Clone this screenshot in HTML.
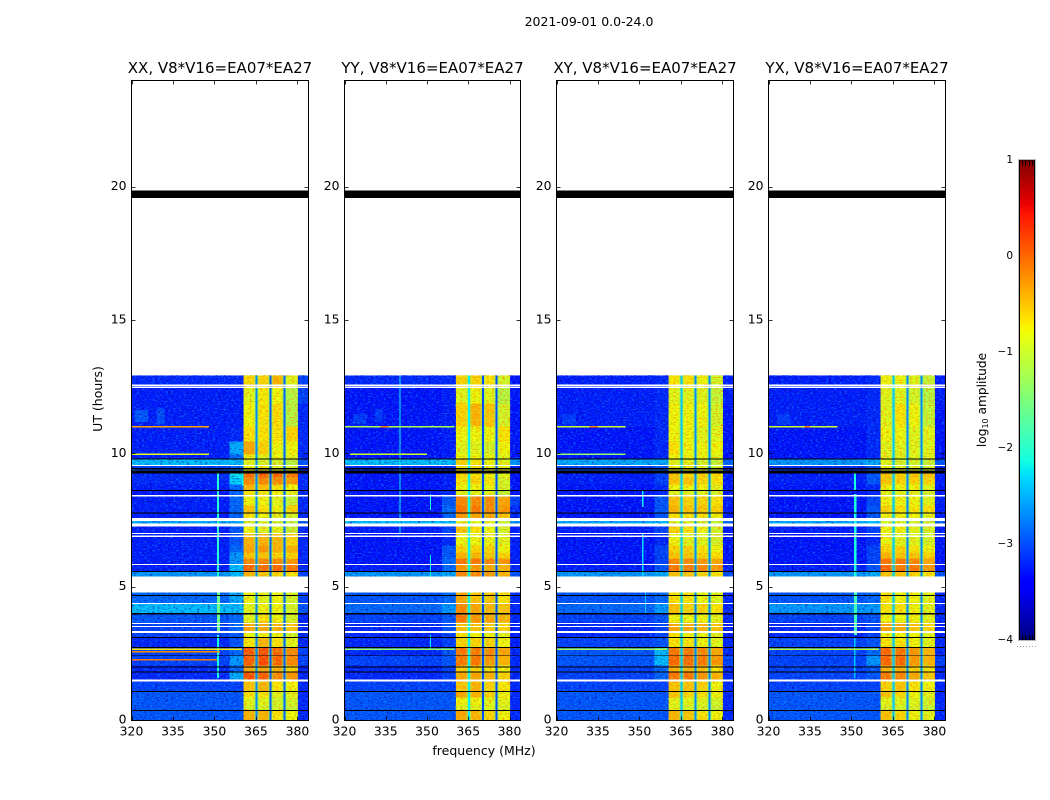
<!DOCTYPE html>
<html>
<head>
<meta charset="utf-8">
<title>Dynamic spectrum, 2021-09-01</title>
<style>
html,body{margin:0;padding:0;background:#fff;}
svg{display:block;font-family:"DejaVu Sans","Liberation Sans",sans-serif;fill:#000;}
</style>
</head>
<body>
<svg id="figure" xmlns="http://www.w3.org/2000/svg" width="1050" height="800" viewBox="0 0 1050 800">
<defs>
<filter id="speck-cool" x="0" y="0" width="100%" height="100%" color-interpolation-filters="sRGB">
<feTurbulence type="fractalNoise" baseFrequency="0.38 0.75" numOctaves="2" seed="3"/>
<feColorMatrix type="matrix" values="0 0 0 0 .1  0 0 0 0 .6  0 0 0 0 1  2 0 0 0 -1"/>
</filter>
<filter id="speck-dark" x="0" y="0" width="100%" height="100%" color-interpolation-filters="sRGB">
<feTurbulence type="fractalNoise" baseFrequency="0.38 0.75" numOctaves="2" seed="11"/>
<feColorMatrix type="matrix" values="0 0 0 0 0  0 0 0 0 0  0 0 0 0 .6  2 0 0 0 -1"/>
</filter>
<filter id="speck-warm" x="0" y="0" width="100%" height="100%" color-interpolation-filters="sRGB">
<feTurbulence type="fractalNoise" baseFrequency="0.38 0.75" numOctaves="2" seed="5"/>
<feColorMatrix type="matrix" values="0 0 0 0 1  0 0 0 0 .5  0 0 0 0 0  2.4 0 0 0 -1.1"/>
</filter>
<filter id="speck-green" x="0" y="0" width="100%" height="100%" color-interpolation-filters="sRGB">
<feTurbulence type="fractalNoise" baseFrequency="0.38 0.75" numOctaves="2" seed="17"/>
<feColorMatrix type="matrix" values="0 0 0 0 .6  0 0 0 0 1  0 0 0 0 .2  2 0 0 0 -1"/>
</filter>
</defs>
</svg>
<script>
// ---------- chart data ----------
var panelNames = ['XX', 'YY', 'XY', 'YX'];
var freqTicks = [320, 335, 350, 365, 380];
var hourTicks = [0, 5, 10, 15, 20];
var colorbarTicks = [1, 0, -1, -2, -3, -4];
// time row edges (UT hours), top to bottom
var rowEdges = [12.94,12.49,11.89,11.02,10.46,9.97,9.79,9.58,9.34,9.11,8.85,8.63,8.44,8.06,7.80,7.58,7.39,6.99,6.56,6.30,6.08,5.85,5.59,5.40,4.80,4.39,4.01,3.68,3.30,3.11,2.74,2.44,2.06,1.84,1.50,1.09,0.86,0.56,0.38,0];
// frequency edges (MHz) of the seven level columns
var columnRanges = [[320,355.5],[355.5,360.5],[360.5,365.2],[365.2,370.3],[370.3,375.3],[375.3,380.2],[380.2,384]];
// narrow notches between the sub-bands (MHz) and their level in each panel
var notchFreqs = [365.2, 370.3, 375.3];
var notchLevelsXX = [-2.7, -2.9, -2.9];
var notchLevelsYY = [-2.2, -3.0, -3.0];
var notchLevelsXY = [-2.4, -2.7, -2.7];
var notchLevelsYX = [-2.4, -2.7, -2.7];
var panelNotchLevels = [notchLevelsXX, notchLevelsYY, notchLevelsXY, notchLevelsYX];
// log10 amplitude per row: rows x columns
var levelsXX = [
[-3.2,-3.2,-.65,-.6,-.4,-.9,-3.05],[-3.25,-3.25,-.9,-.75,-.8,-1.2,-3.05],[-3.25,-3.25,-.8,-.7,-.65,-1.2,-3.2],[-3.25,-3.2,-.7,-.7,-.7,-.6,-3.2],
[-3.25,-2.5,-.3,-.6,-.8,-.8,-3.2],[-3.25,-2.85,-.8,-.9,-.8,-.9,-3.2],[-2.4,-2.4,-.9,-1,-1,-1.2,-2.95],[-3.05,-2.85,-.8,-.8,-.9,-1,-3.2],
[-3.2,-2.2,.1,.15,.1,0,-3.2],[-3.2,-2.3,-.1,-.1,-.1,-.2,-3.2],[-3.25,-2.85,-.4,-.5,-.7,-.8,-3.2],[-3.3,-2.85,-.7,-.7,-.8,-.9,-3.2],
[-3.25,-2.85,-.8,-.8,-.9,-1.1,-3.2],[-3.25,-2.85,-.5,-.7,-.8,-.6,-3.2],[-3.25,-2.85,-.7,-.8,-.9,-1,-3.2],[-2.5,-2.5,-1,-1,-1.1,-1.2,-2.95],
[-3.25,-2.95,-.8,-.9,-.9,-1.1,-3.2],[-3.25,-2.95,-.4,-.4,-.4,-.6,-3.2],[-3.25,-2.85,-.3,-.2,-.4,-.4,-3.2],[-3.25,-2.6,-.5,-.5,-.6,-.6,-3.2],
[-3.25,-2.6,-.1,-.1,-.1,-.2,-3.2],[-3.25,-2.4,.1,.1,.1,0,-3.2],[-2.6,-2.4,-.4,-.5,-.6,-.7,-3.05],null,
[-2.85,-2.5,-.8,-.9,-.8,-1,-3.05],[-2.4,-2.4,-.9,-.8,-.8,-1,-2.95],[-2.95,-2.85,-.9,-.7,-.8,-1,-3.2],[-3.05,-2.85,-.3,-.3,-.4,-.5,-3.2],
[-3.05,-2.95,-.8,-.8,-.8,-1,-3.2],[-3.2,-2.95,-.7,-.4,-.7,-.9,-3.2],[-3.05,-2.85,.2,.25,.1,-.1,-3.05],[-3.05,-2.6,.15,.25,.1,-.1,-3.05],
[-3.2,-2.85,-.3,-.3,-.4,-.6,-3.2],[-3.2,-2.5,.25,.15,-.1,-.2,-3.2],[-3.05,-3.05,-.5,-.4,-.7,-.8,-3.2],[-2.95,-2.95,-.7,-.7,-.9,-.9,-3.2],
[-2.95,-2.95,-.9,-.9,-1,-1,-3.2],[-2.95,-2.95,-1,-1,-1,-1.1,-3.2],[-2.95,-2.95,-.4,-.4,-.7,-.8,-3.2]
];
var levelsYY = [
[-3.2,-3.2,-.6,-.6,-.7,-1,-3.3],[-3.3,-3.25,-.9,-.8,-.9,-1.2,-3.3],[-3.3,-3.25,-.6,-.4,-.5,-1,-3.3],[-3.3,-3.25,-.8,-.8,-.8,-.7,-3.3],
[-3.3,-3.25,-.9,-.9,-1,-.8,-3.3],[-3.3,-3.25,-.8,-.8,-.8,-.9,-3.3],[-2.4,-2.4,-.6,-.7,-.8,-.9,-2.6],[-3.2,-3.2,-.7,-.7,-.8,-.9,-3.25],
[-3.3,-3.25,-.6,-.7,-.8,-.9,-3.3],[-3.3,-3.25,-.7,-.6,-.7,-1,-3.3],[-3.3,-3.25,-.8,-.8,-.8,-1,-3.3],[-3.3,-3.2,-.9,-.9,-.9,-1.1,-3.3],
[-3.3,-2.95,-.1,-.1,-.1,-.3,-3.05],[-3.3,-2.85,0,0,-.1,-.2,-3.2],[-3.3,-2.85,-.2,-.3,-.3,-.5,-3.2],[-2.4,-2.4,-.9,-.9,-.9,-1.1,-2.6],
[-3.25,-3.05,-.5,-.7,-.8,-1,-3.25],[-3.3,-3.2,-.8,-.8,-.8,-.9,-3.25],[-3.3,-2.95,-.6,-.6,-.6,-.8,-3.25],[-3.3,-2.95,-.4,-.4,-.5,-.6,-3.25],
[-3.3,-2.85,0,0,-.1,-.2,-3.25],[-3.25,-2.85,-.2,-.2,-.3,-.4,-3.2],[-2.6,-2.5,-.1,-.1,-.2,-.4,-2.95],null,
[-2.95,-2.85,-.3,-.5,-.5,-.7,-3.2],[-2.85,-2.6,-.1,-.3,-.4,-.5,-3.2],[-3.05,-2.95,0,-.2,-.3,-.4,-3.2],[-3.2,-2.95,-.5,-.5,-.5,-.6,-3.25],
[-3.2,-3.05,-.7,-.8,-.8,-.9,-3.25],[-3.2,-3.05,-.6,-.6,-.6,-.8,-3.25],[-3.2,-2.95,0,0,-.1,-.3,-3.2],[-3.05,-2.95,0,0,-.2,-.4,-3.2],
[-3.2,-3.05,-.6,-.6,-.7,-.8,-3.2],[-3.2,-3.05,-.3,-.3,-.4,-.6,-3.2],[-3.05,-3.05,-.5,-.4,-.6,-.7,-3.2],[-2.95,-2.95,-.3,-.4,-.6,-.8,-3.2],
[-2.95,-2.95,-.8,-.8,-.9,-.9,-3.2],[-2.95,-2.95,-.9,-.9,-.9,-1,-3.2],[-2.95,-2.95,-.3,-.4,-.6,-.8,-3.2]
];
var levelsXY = [
[-3.25,-3.2,-.7,-.7,-.8,-1,-3.25],[-3.25,-3.2,-.9,-.9,-.9,-1.1,-3.25],[-3.25,-3.2,-.8,-.8,-.8,-1,-3.3],[-3.3,-3.2,-.8,-.8,-.9,-.9,-3.3],
[-3.3,-3.2,-.7,-.8,-.8,-.8,-3.3],[-3.3,-3.2,-.8,-.8,-.8,-.9,-3.3],[-2.5,-2.5,-.9,-.9,-1,-1.1,-2.85],[-3.05,-2.95,-.8,-.8,-.9,-1,-3.2],
[-3.25,-3.05,-.5,-.6,-.6,-.7,-3.25],[-3.25,-3.05,-.5,-.5,-.6,-.7,-3.25],[-3.3,-3.2,-.8,-.8,-.8,-.9,-3.3],[-3.3,-3.2,-.9,-.9,-.9,-1,-3.3],
[-3.3,-2.95,-.5,-.6,-.6,-.7,-3.25],[-3.3,-2.95,-.4,-.5,-.5,-.6,-3.25],[-3.3,-2.95,-.7,-.7,-.7,-.8,-3.25],[-2.5,-2.4,-1,-1,-1,-1.1,-2.85],
[-3.25,-3.05,-.6,-.7,-.8,-1,-3.25],[-3.3,-3.2,-.8,-.9,-.9,-1,-3.3],[-3.3,-3.05,-.6,-.6,-.7,-.8,-3.3],[-3.3,-3.05,-.5,-.5,-.6,-.7,-3.3],
[-3.3,-3.05,-.1,-.1,-.2,-.3,-3.3],[-3.25,-2.95,0,0,-.1,-.2,-3.25],[-2.6,-2.5,-.5,-.5,-.6,-.7,-2.95],null,
[-2.95,-2.85,-.7,-.7,-.8,-.9,-3.2],[-2.85,-2.6,-.5,-.6,-.6,-.7,-3.2],[-3.05,-2.95,-.8,-.8,-.8,-.9,-3.2],[-3.2,-3.05,-.3,-.3,-.4,-.5,-3.25],
[-3.2,-3.05,-.7,-.8,-.8,-.9,-3.25],[-3.05,-2.95,-.7,-.7,-.8,-.9,-3.2],[-2.95,-2.4,0,0,-.1,-.3,-3.2],[-2.95,-2.4,.1,.1,0,-.2,-3.05],
[-3.05,-2.85,-.4,-.4,-.5,-.7,-3.2],[-3.05,-2.85,0,0,-.2,-.4,-3.2],[-3.05,-3.05,-.5,-.5,-.6,-.8,-3.2],[-2.95,-2.95,-.5,-.6,-.7,-.8,-3.2],
[-2.95,-2.95,-.9,-.9,-.9,-1,-3.2],[-2.95,-2.95,-.9,-1,-1,-1.1,-3.2],[-2.95,-2.95,-.4,-.5,-.7,-.8,-3.2]
];
var levelsYX = [
[-3.25,-3.2,-.8,-.8,-.9,-1.1,-3.25],[-3.25,-3.2,-.9,-.9,-1,-1.2,-3.25],[-3.25,-3.2,-.9,-.7,-.8,-1.1,-3.3],[-3.3,-3.2,-.8,-.8,-.9,-.9,-3.3],
[-3.3,-3.2,-.9,-.9,-.9,-.9,-3.3],[-3.3,-3.2,-.9,-.9,-.9,-.9,-3.3],[-2.6,-2.5,-.9,-1,-1,-1.1,-2.95],[-3.2,-2.95,-.8,-.9,-.9,-1,-3.25],
[-3.25,-2.95,-.5,-.6,-.5,-.5,-3.25],[-3.25,-2.95,-.5,-.6,-.6,-.6,-3.25],[-3.3,-3.2,-.8,-.8,-.8,-.9,-3.3],[-3.3,-3.2,-.9,-.9,-.9,-1,-3.3],
[-3.3,-3.05,-.8,-.8,-.8,-.9,-3.25],[-3.3,-2.95,-.6,-.7,-.7,-.7,-3.25],[-3.3,-2.95,-.8,-.8,-.8,-.9,-3.25],[-2.5,-2.4,-1,-1,-1,-1.1,-2.85],
[-3.25,-3.05,-.8,-.8,-.9,-1,-3.25],[-3.3,-3.2,-.8,-.9,-.9,-1,-3.3],[-3.3,-3.05,-.6,-.6,-.7,-.8,-3.3],[-3.3,-3.05,-.4,-.5,-.5,-.6,-3.3],
[-3.3,-3.05,0,0,-.1,-.3,-3.3],[-3.25,-2.95,.1,0,0,-.2,-3.25],[-2.6,-2.5,-.5,-.5,-.6,-.7,-2.95],null,
[-2.95,-2.85,-.7,-.8,-.8,-.9,-3.2],[-2.6,-2.6,-.7,-.7,-.8,-.9,-3.2],[-3.05,-2.95,-.8,-.8,-.8,-.9,-3.2],[-3.2,-3.05,-.3,-.3,-.5,-.6,-3.25],
[-3.2,-3.05,-.8,-.8,-.8,-.9,-3.25],[-3.05,-2.95,-.7,-.7,-.8,-.9,-3.2],[-3.05,-2.85,.1,0,-.2,-.4,-3.2],[-3.05,-2.6,.1,.1,-.2,-.4,-3.05],
[-3.05,-2.95,-.4,-.4,-.6,-.7,-3.2],[-3.05,-2.95,0,-.1,-.3,-.5,-3.2],[-3.05,-3.05,-.6,-.5,-.7,-.8,-3.2],[-2.95,-2.95,-.5,-.6,-.8,-.9,-3.2],
[-2.95,-2.95,-.9,-.9,-.9,-1,-3.2],[-2.95,-2.95,-1,-1,-1,-1.1,-3.2],[-2.95,-2.95,-.5,-.6,-.8,-.9,-3.2]
];
var panelLevels = [levelsXX, levelsYY, levelsXY, levelsYX];
// diffuse brighter patches: [from MHz, to MHz, start h, end h, log10 amp]
var patchesXX = [[321,326,11.65,11.2,-2.95],[329,332,11.7,11.1,-3.0]];
var patchesYY = [[323,328,11.5,11.1,-3.1],[331,334,11.7,11.2,-3.1]];
var patchesXY = [[322,327,11.5,11.1,-3.1]];
var patchesYX = [[323,328,11.5,11.1,-3.1]];
var panelPatches = [patchesXX, patchesYY, patchesXY, patchesYX];
// narrowband vertical interference: [MHz, width MHz, start h, end h, log10 amp]
var verticalRfiXX = [[351,.7,9.3,5.4,-2],[351,1,4.8,3.3,-1.6],[351,.6,3.2,1.6,-2.1],[360,.5,9.3,8.8,-2.2]];
var verticalRfiYY = [[340,.4,12.94,6.99,-2.2],[351,.5,8.5,7.9,-2.1],[351,.4,6.2,5.4,-2.2],[351,.4,3.2,2.7,-2.2]];
var verticalRfiXY = [[351,.5,8.6,8,-2.2],[351,.4,7,5.4,-2.3],[352,.4,4.8,4,-2.4]];
var verticalRfiYX = [[351,.7,9.3,8.6,-2.1],[351,.8,8.5,5.4,-2.1],[351,1,4.8,3.2,-1.9],[351,.5,3.1,1.6,-2.4]];
var panelVerticals = [verticalRfiXX, verticalRfiYY, verticalRfiXY, verticalRfiYX];
// narrowband horizontal interference: [hour, from MHz, to MHz, log10 amp]
var horizontalRfiXX = [[11.03,320,348,-.3],[10,320,348,-.9],[2.68,320,360,-.7],[2.58,320,352,-.2],[2.28,320,351,-.1]];
var horizontalRfiYY = [[11.03,320,360,-1.2],[11.03,333,336,-.1],[10,322,350,-1],[2.68,320,360,-1.3]];
var horizontalRfiXY = [[11.03,320,345,-1],[11.03,332,335,-.1],[10,320,345,-1.4],[2.68,320,360,-1.2]];
var horizontalRfiYX = [[11.03,320,345,-1],[11.03,333,335,-.1],[2.68,320,360,-1.1]];
var panelHorizontals = [horizontalRfiXX, horizontalRfiYY, horizontalRfiXY, horizontalRfiYX];
// flagged time ranges shared by every baseline product [start h, end h]
var flaggedWhite = [[12.60,12.54],[12.52,12.47],[9.59,9.55],[8.46,8.40],[7.59,7.49],[7.39,7.28],[7.04,7.0],[6.93,6.89],[5.86,5.83],[5.40,4.80],[4.41,4.37],[3.66,3.62],[3.55,3.50],[3.36,3.29],[1.53,1.46]];
var flaggedBlack = [[19.88,19.59],[9.82,9.78],[9.46,9.42],[9.37,9.27],[8.65,8.60],[7.80,7.76],[5.61,5.57],[4.70,4.66],[4.03,3.97],[3.13,3.09],[2.76,2.71],[2.44,2.41],[2.03,1.98],[1.84,1.80],[1.10,1.06],[0.39,0.35]];

// ---------- axis functions ----------
var svg = document.getElementById('figure');
var NS = 'http://www.w3.org/2000/svg';
var panelLeft = [131.5, 344.5, 556.5, 768.5];
var panelWidth = [177, 176, 177, 177];
var plotTop = 80.5, plotBottom = 720.5;
function xPx(p, mhz) { return panelLeft[p] + (mhz - 320) / 64 * panelWidth[p]; }
function yPx(h) { return plotBottom - h / 24 * (plotBottom - plotTop); }
function cbY(v) { return 160 + (1 - v) / 5 * 480; }
function ramp(t, pts) {
  for (var i = 1; i < pts.length; i++) {
    if (t <= pts[i][0]) {
      var a = pts[i - 1], b = pts[i];
      return a[1] + (b[1] - a[1]) * (t - a[0]) / (b[0] - a[0]);
    }
  }
  return pts[pts.length - 1][1];
}
function jet(v) {
  var t = Math.max(0, Math.min(1, (v + 4) / 5));
  var r = ramp(t, [[0,0],[.35,0],[.66,1],[.89,1],[1,.5]]);
  var g = ramp(t, [[0,0],[.125,0],[.375,1],[.64,1],[.91,0],[1,0]]);
  var b = ramp(t, [[0,.5],[.11,1],[.34,1],[.65,0],[1,0]]);
  return 'rgb(' + Math.round(r * 255) + ',' + Math.round(g * 255) + ',' + Math.round(b * 255) + ')';
}
function make(tag, attrs, parent) {
  var el = document.createElementNS(NS, tag);
  for (var k in attrs) el.setAttribute(k, attrs[k]);
  (parent || svg).appendChild(el);
  return el;
}

// ---------- figure text ----------
var suptitle = make('text', {x: 589, y: 26, 'text-anchor': 'middle', 'font-size': 12.5});


suptitle.textContent = '2021-09-01 0.0-24.0';

var xTitle = make('text', {x: 484, y: 755, 'text-anchor': 'middle', 'font-size': 12.5});


xTitle.textContent = 'frequency (MHz)';

var yTitle = make('text', {x: 102, y: 399, 'text-anchor': 'middle', 'font-size': 12.5, transform: 'rotate(-90 102 399)'});


yTitle.textContent = 'UT (hours)';

// ---------- panels ----------
panelNames.forEach(function (name, p) {
  var g = make('g', {});
  
  

  var clipId = 'clip-' + p;
  var clip = make('clipPath', {id: clipId}, g);
  make('rect', {x: panelLeft[p], y: plotTop, width: panelWidth[p], height: plotBottom - plotTop}, clip);

  var heat = make('g', {'clip-path': 'url(#' + clipId + ')', 'shape-rendering': 'crispEdges'}, g);
  
  

  var levels = panelLevels[p];
  levels.forEach(function (row, r) {
    if (!row) return;
    var y0 = yPx(rowEdges[r]), y1 = yPx(rowEdges[r + 1]);
    row.forEach(function (val, c) {
      var x0 = xPx(p, columnRanges[c][0]), x1 = xPx(p, columnRanges[c][1]);
      var cell = make('rect', {x: x0, y: y0, width: x1 - x0 + .5, height: y1 - y0 + .5, fill: jet(val)}, heat);
      
      
    });
  });
  panelPatches[p].forEach(function (d) {
    var patch = make('rect', {x: xPx(p, d[0]), y: yPx(d[2]), width: xPx(p, d[1]) - xPx(p, d[0]), height: yPx(d[3]) - yPx(d[2]), fill: jet(d[4])}, heat);
    
    
  });

  // speckle texture: cool over the noise floor, warm over the bright band
  var topY = yPx(rowEdges[0]);
  var floorX1 = xPx(p, 360.5), hiX0 = xPx(p, 380.2), endX = xPx(p, 384);
  ['speck-cool', 'speck-dark'].forEach(function (fid) {
    var floorSpeck = make('rect', {x: panelLeft[p], y: topY, width: floorX1 - panelLeft[p], height: plotBottom - topY, filter: 'url(#' + fid + ')', fill: '#fff'}, g);
    
    
    var hiSpeck = make('rect', {x: hiX0, y: topY, width: endX - hiX0, height: plotBottom - topY, filter: 'url(#' + fid + ')', fill: '#fff'}, g);
    
    
  });
  ['speck-warm', 'speck-green'].forEach(function (fid) {
    var bandSpeck = make('rect', {x: floorX1, y: topY, width: hiX0 - floorX1, height: plotBottom - topY, filter: 'url(#' + fid + ')', fill: '#fff'}, g);
    
    
  });

  var over = make('g', {'clip-path': 'url(#' + clipId + ')', 'shape-rendering': 'crispEdges'}, g);
  
  

  levels.forEach(function (row, r) {
    if (!row) return;
    var y0 = yPx(rowEdges[r]), y1 = yPx(rowEdges[r + 1]);
    notchFreqs.forEach(function (f, n) {
      var halo = make('rect', {x: xPx(p, f) - 2.5, y: y0, width: 5, height: y1 - y0 + .5, fill: jet(-1.5), opacity: .4}, over);
      
      
      var notch = make('rect', {x: xPx(p, f) - 1, y: y0, width: 2, height: y1 - y0 + .5, fill: jet(panelNotchLevels[p][n])}, over);
      
      
    });
  });
  panelVerticals[p].forEach(function (d) {
    var v = make('rect', {x: xPx(p, d[0]), y: yPx(d[2]), width: Math.max(1, d[1] / 64 * panelWidth[p]), height: yPx(d[3]) - yPx(d[2]), fill: jet(d[4])}, over);
    
    
  });
  panelHorizontals[p].forEach(function (d) {
    var h = make('rect', {x: xPx(p, d[1]), y: yPx(d[0]) - .5, width: xPx(p, d[2]) - xPx(p, d[1]), height: 1.5, fill: jet(d[3])}, over);
    
    
  });

  flaggedWhite.forEach(function (d) {
    var w = make('rect', {x: panelLeft[p], y: yPx(d[0]), width: panelWidth[p], height: yPx(d[1]) - yPx(d[0]), fill: '#fff', 'shape-rendering': 'crispEdges'}, g);
    
    
  });
  flaggedBlack.forEach(function (d) {
    var b = make('rect', {x: panelLeft[p], y: yPx(d[0]), width: panelWidth[p], height: yPx(d[1]) - yPx(d[0]), fill: '#000', 'shape-rendering': 'crispEdges'}, g);
    
    
  });

  var frame = make('rect', {x: panelLeft[p], y: plotTop, width: panelWidth[p], height: plotBottom - plotTop, fill: 'none', stroke: '#000', 'stroke-width': 1}, g);
  
  

  var title = make('text', {x: panelLeft[p] + panelWidth[p] / 2, y: 73, 'text-anchor': 'middle', 'font-size': 15}, g);
  
  
  title.textContent = name + ', V8*V16=EA07*EA27';

  freqTicks.forEach(function (f) {
    var x = Math.round(xPx(p, f)) + .5;
    [[plotTop, plotTop + 4], [plotBottom, plotBottom - 4]].forEach(function (e) {
      var t = make('line', {x1: x, x2: x, y1: e[0], y2: e[1], stroke: '#000', 'stroke-width': .8}, g);
      
      
    });
    var lab = make('text', {x: xPx(p, f), y: 735.5, 'text-anchor': 'middle', 'font-size': 12.4}, g);
    
    
    lab.textContent = f;
  });
  hourTicks.forEach(function (h) {
    var y = Math.round(yPx(h) - .5) + .5;
    [[panelLeft[p], panelLeft[p] + 4], [panelLeft[p] + panelWidth[p], panelLeft[p] + panelWidth[p] - 4]].forEach(function (e) {
      var t = make('line', {x1: e[0], x2: e[1], y1: y, y2: y, stroke: '#000', 'stroke-width': .8}, g);
      
      
    });
    var lab = make('text', {x: panelLeft[p] - 5, y: yPx(h) + 3, 'text-anchor': 'end', 'font-size': 12.4}, g);
    
    
    lab.textContent = h;
  });
});

// ---------- colorbar ----------
var cb = make('g', {});


for (var v = -4; v < 1; v += 0.03) {
  var seg = make('rect', {x: 1020, y: cbY(v + 0.03) , width: 14, height: cbY(v) - cbY(v + 0.03) + .5, fill: jet(v + 0.015), 'shape-rendering': 'crispEdges'}, cb);
  
  
}
var cbFrame = make('rect', {x: 1019.5, y: 160, width: 15, height: 480, fill: 'none', stroke: '#000', 'stroke-width': 1}, cb);


var cbOuter = make('rect', {x: 1018.5, y: 159.5, width: 17, height: 481, fill: 'none', stroke: '#bbb', 'stroke-width': 1}, cb);


[1022.5, 1025.5, 1029.5, 1032.5].forEach(function (x) {
  var a = make('line', {x1: x, x2: x, y1: 161, y2: 165.5, stroke: '#000', 'stroke-width': 1}, cb);
  
  
  var b = make('line', {x1: x, x2: x, y1: 635, y2: 639.5, stroke: '#000', 'stroke-width': 1}, cb);
  
  
});
colorbarTicks.forEach(function (val) {
  var lab = make('text', {x: 1013, y: cbY(val) + 3, 'text-anchor': 'end', 'font-size': 10.5}, cb);
  
  
  lab.textContent = (val < 0 ? '\u2212' + (-val) : '' + val);
});
var dots = make('line', {x1: 1017, x2: 1036, y1: 646.5, y2: 646.5, stroke: '#999', 'stroke-width': 1, 'stroke-dasharray': '1 2'}, cb);



var cbTitle = make('text', {x: 986, y: 400, 'text-anchor': 'middle', 'font-size': 12.2, transform: 'rotate(-90 986 400)'}, cb);


var t1 = make('tspan', {}, cbTitle);
t1.textContent = 'log';
var t2 = make('tspan', {dy: 2, 'font-size': 8}, cbTitle);
t2.textContent = '10';
var t3 = make('tspan', {dy: -2}, cbTitle);
t3.textContent = ' amplitude';
</script>
</body>
</html>
